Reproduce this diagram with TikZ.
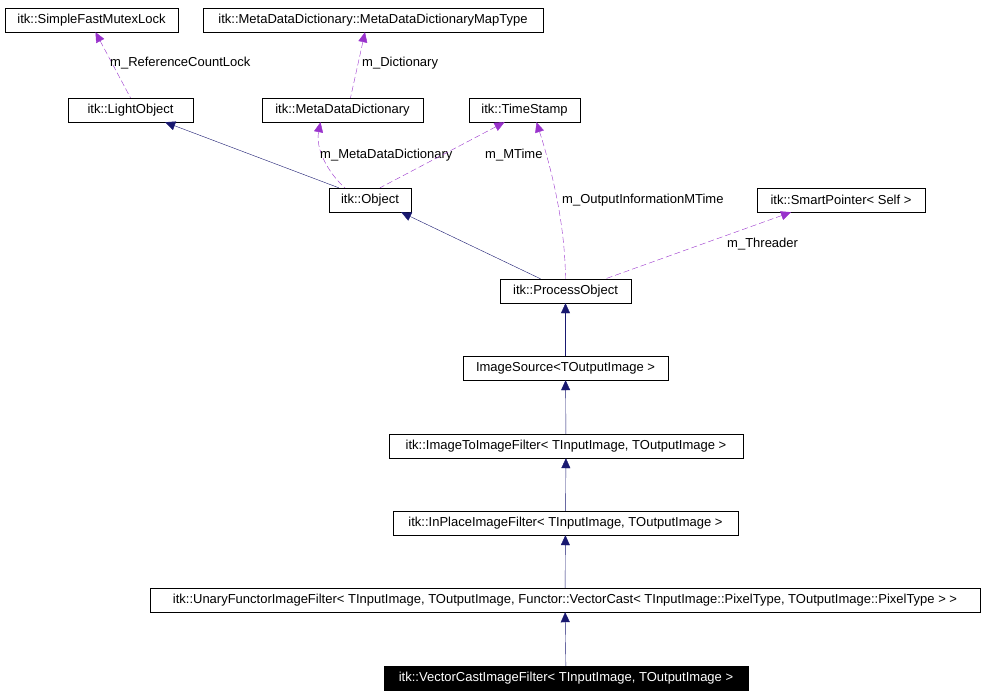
\documentclass[tikz,border=0pt]{standalone}
\usepackage{fontspec}
\setmainfont{Liberation Sans}
\usetikzlibrary{arrows.meta}
\definecolor{navy}{RGB}{25,25,112}
\definecolor{purp}{RGB}{153,50,204}
\begin{document}
\begin{tikzpicture}[x=1pt,y=-1pt,
  box/.style={draw=black,fill=white,inner sep=0pt,minimum height=24pt,font=\fontsize{13}{15}\selectfont},
  inh/.style={draw=navy,{Triangle[length=10pt,width=9pt,fill=navy]}-},
  use/.style={draw=purp,dashed,dash pattern=on 6pt off 3pt,{Triangle[length=10pt,width=9pt,fill=purp]}-},
  lab/.style={font=\fontsize{13}{15}\selectfont,inner sep=0pt,anchor=west}]
\useasboundingbox (0,0) rectangle (985,696);
\node[box,minimum width=173pt] (mutex) at (91.5,20) {itk::SimpleFastMutexLock};
\node[box,minimum width=340pt] (map) at (373,20) {itk::MetaDataDictionary::MetaDataDictionaryMapType};
\node[box,minimum width=125pt] (light) at (130.5,110) {itk::LightObject};
\node[box,minimum width=161pt] (dict) at (342.5,110) {itk::MetaDataDictionary};
\node[box,minimum width=111pt] (ts) at (524.5,110) {itk::TimeStamp};
\node[box,minimum width=82pt] (obj) at (370,200) {itk::Object};
\node[box,minimum width=168pt] (sp) at (841,200) {itk::SmartPointer< Self >};
\node[box,minimum width=131pt] (po) at (565.5,291) {itk::ProcessObject};
\node[box,minimum width=205pt] (is) at (565.5,368) {ImageSource<TOutputImage >};
\node[box,minimum width=354pt] (i2i) at (566,446) {itk::ImageToImageFilter< TInputImage, TOutputImage >};
\node[box,minimum width=345pt] (ip) at (565.5,523) {itk::InPlaceImageFilter< TInputImage, TOutputImage >};
\node[box,minimum width=830pt] (un) at (565,600) {itk::UnaryFunctorImageFilter< TInputImage, TOutputImage, Functor::VectorCast< TInputImage::PixelType, TOutputImage::PixelType > >};
\node[box,minimum width=364pt,fill=black,text=white] (vc) at (566,678) {itk::VectorCastImageFilter< TInputImage, TOutputImage >};

\draw[inh] ([xshift=-28pt]light.south east) -- ([xshift=10pt]obj.north west);
\draw[inh] ([xshift=-10pt]obj.south east) -- ([xshift=-25pt]po.north);
\draw[inh] (po) -- (is);
\draw[inh] (is) -- (i2i);
\draw[inh] (i2i) -- (ip);
\draw[inh] (ip) -- (un);
\draw[inh] (un) -- (vc);

\draw[use] ([xshift=4pt]mutex.south) -- (light.north);
\node[lab] (l1) at (110,63) {m\_ReferenceCountLock};
\draw[use] ([xshift=-8pt]map.south) -- ([xshift=8pt]dict.north);
\node[lab] (l2) at (362,63) {m\_Dictionary};
\draw[use] ([xshift=-22pt]dict.south) .. controls (315,150) and (330,175) .. ([xshift=-25pt]obj.north);
\node[lab] (l3) at (320,155) {m\_MetaDataDictionary};
\draw[use] ([xshift=-20pt]ts.south) -- ([xshift=10pt]obj.north);
\node[lab] (l4) at (485,155) {m\_MTime};
\draw[use] ([xshift=12pt]ts.south) .. controls (555,180) and (565,230) .. (po.north);
\node[lab] (l5) at (562,200) {m\_OutputInformationMTime};
\draw[use] ([xshift=-50pt]sp.south) -- ([xshift=40pt]po.north);
\node[lab] (l6) at (727,244) {m\_Threader};
\end{tikzpicture}
\end{document}
